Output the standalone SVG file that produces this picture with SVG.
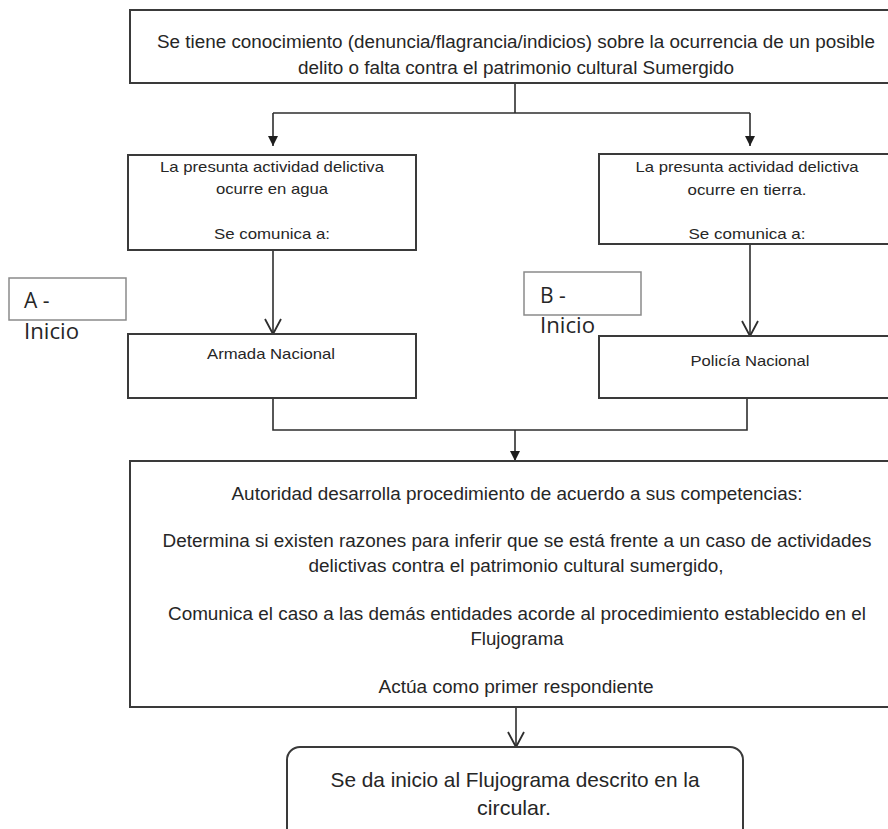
<svg xmlns="http://www.w3.org/2000/svg" width="888" height="829" viewBox="0 0 888 829">
<defs>
<style>
.box{fill:#fff;stroke:#3a3a3a;stroke-width:2}
.lbl{fill:#fff;stroke:#8a8a8a;stroke-width:1.5}
.t{font-family:"Liberation Sans",Arial,sans-serif;fill:#262626;text-anchor:middle}
.s{font-family:"Open Sans","Liberation Sans",sans-serif;fill:#262626;font-size:21px}
.c{fill:none;stroke:#2e2e2e;stroke-width:1.6}
</style>
<marker id="fa" markerUnits="userSpaceOnUse" markerWidth="10" markerHeight="10" refX="10" refY="5" orient="auto" viewBox="0 0 10 10">
<path d="M0,0 L10,5 L0,10 z" fill="#1e1e1e"/>
</marker>
<marker id="va" markerUnits="userSpaceOnUse" markerWidth="18" markerHeight="20" refX="16" refY="9" orient="auto" viewBox="0 0 18 20">
<path d="M1,1 L16,9 L1,17" fill="none" stroke="#2e2e2e" stroke-width="1.8"/>
</marker>
</defs>
<rect width="888" height="829" fill="#fff"/>

<g id="connectors">
<path class="c" d="M515,83 V113 M273,113 H750"/>
<path class="c" d="M273,113 V146" marker-end="url(#fa)"/>
<path class="c" d="M750,113 V146" marker-end="url(#fa)"/>
<path class="c" d="M273,250 V334" marker-end="url(#va)"/>
<path class="c" d="M750,244 V336" marker-end="url(#va)"/>
<path class="c" d="M273,398 V430 H747 V398"/>
<path class="c" d="M515,430 V461" marker-end="url(#fa)"/>
<path class="c" d="M516,707 V747" marker-end="url(#va)"/>
</g>

<g id="n-top">
<rect class="box" x="130" y="10" width="760" height="73"/>
<text class="t" font-size="17.5" x="516" y="48" textLength="718" lengthAdjust="spacingAndGlyphs">Se tiene conocimiento (denuncia/flagrancia/indicios) sobre la ocurrencia de un posible</text>
<text class="t" font-size="17.5" x="516" y="74" textLength="436" lengthAdjust="spacingAndGlyphs">delito o falta contra el patrimonio cultural  Sumergido</text>
</g>

<g id="n-agua">
<rect class="box" x="128" y="155" width="288" height="95"/>
<text class="t" font-size="15" x="272" y="172" textLength="224" lengthAdjust="spacingAndGlyphs">La presunta actividad delictiva</text>
<text class="t" font-size="15" x="272" y="194" textLength="112" lengthAdjust="spacingAndGlyphs">ocurre en agua</text>
<text class="t" font-size="15" x="272" y="239" textLength="116" lengthAdjust="spacingAndGlyphs">Se comunica a:</text>
</g>

<g id="n-tierra">
<rect class="box" x="599" y="154" width="300" height="90"/>
<text class="t" font-size="15" x="747" y="172" textLength="223" lengthAdjust="spacingAndGlyphs">La presunta actividad delictiva</text>
<text class="t" font-size="15" x="747" y="195" textLength="119" lengthAdjust="spacingAndGlyphs">ocurre en tierra.</text>
<text class="t" font-size="15" x="747" y="239" textLength="117" lengthAdjust="spacingAndGlyphs">Se comunica a:</text>
</g>

<g id="n-a-inicio">
<rect class="lbl" x="9" y="278" width="117" height="42"/>
<text class="s" x="24" y="308">A -</text>
<text class="s" x="24" y="339" textLength="55" lengthAdjust="spacingAndGlyphs">Inicio</text>
</g>

<g id="n-b-inicio">
<rect class="lbl" x="524" y="272" width="117" height="43"/>
<text class="s" x="540" y="303">B -</text>
<text class="s" x="540" y="333" textLength="55" lengthAdjust="spacingAndGlyphs">Inicio</text>
</g>

<g id="n-armada">
<rect class="box" x="128" y="334" width="288" height="64"/>
<text class="t" font-size="15" x="271" y="359" textLength="128" lengthAdjust="spacingAndGlyphs">Armada Nacional</text>
</g>

<g id="n-policia">
<rect class="box" x="599" y="336" width="300" height="62"/>
<text class="t" font-size="15" x="750" y="366" textLength="119" lengthAdjust="spacingAndGlyphs">Policía Nacional</text>
</g>

<g id="n-autoridad">
<rect class="box" x="130" y="461" width="770" height="246"/>
<text class="t" font-size="17.5" x="517" y="500" textLength="571" lengthAdjust="spacingAndGlyphs">Autoridad desarrolla procedimiento de acuerdo a sus competencias:</text>
<text class="t" font-size="17.5" x="517" y="547" textLength="709" lengthAdjust="spacingAndGlyphs">Determina si existen razones para inferir que se está frente a un  caso de actividades</text>
<text class="t" font-size="17.5" x="516" y="572" textLength="415" lengthAdjust="spacingAndGlyphs">delictivas contra el patrimonio cultural  sumergido,</text>
<text class="t" font-size="17.5" x="517" y="620" textLength="698" lengthAdjust="spacingAndGlyphs">Comunica el caso a las demás entidades acorde al procedimiento establecido en el</text>
<text class="t" font-size="17.5" x="517" y="645" textLength="93" lengthAdjust="spacingAndGlyphs">Flujograma</text>
<text class="t" font-size="17.5" x="516" y="693" textLength="275" lengthAdjust="spacingAndGlyphs">Actúa como primer respondiente</text>
</g>

<g id="n-final">
<rect class="box" x="287" y="747" width="456" height="100" rx="13" ry="13"/>
<text class="t" font-size="21" x="515" y="787" textLength="369" lengthAdjust="spacingAndGlyphs">Se da inicio al Flujograma descrito en la</text>
<text class="t" font-size="21" x="514" y="815" textLength="74" lengthAdjust="spacingAndGlyphs">circular.</text>
</g>
</svg>
